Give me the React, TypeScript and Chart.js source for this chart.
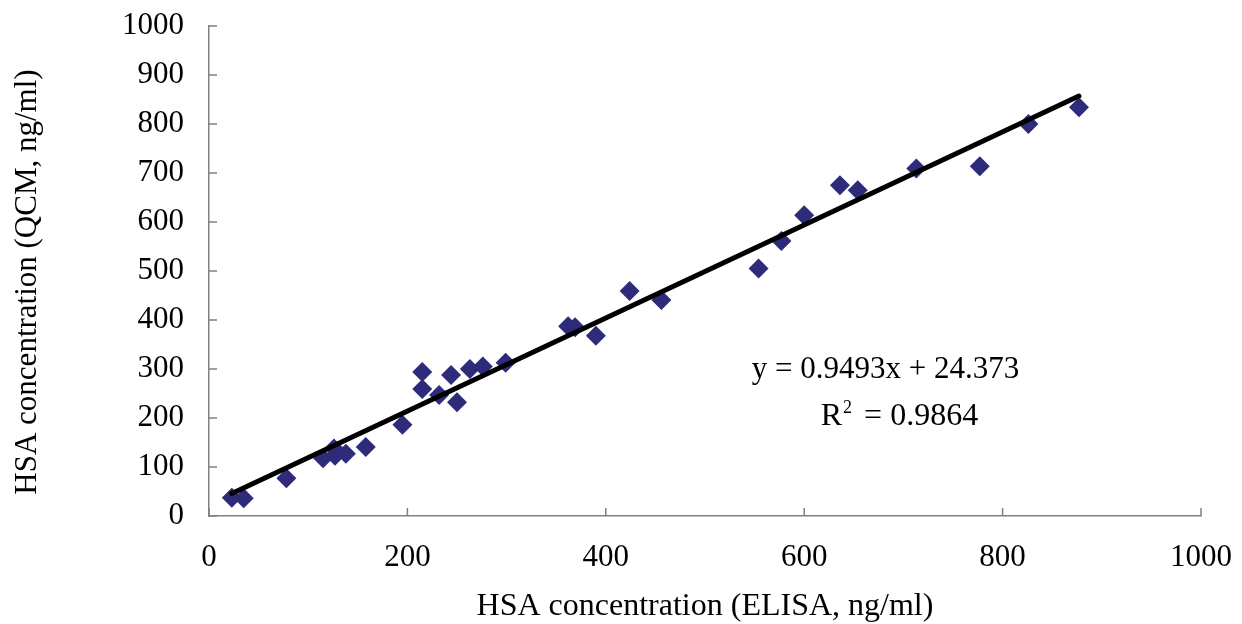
import { useEffect, useRef } from 'react';
import { Chart, registerables } from 'chart.js';

Chart.register(...registerables);

// HSA concentration measured by ELISA (x) and QCM (y), ng/ml
const ELISA = [23, 35, 78, 115, 126, 127, 138, 158, 195, 215, 215, 232, 244, 250, 263, 276, 299, 362, 369, 390, 424, 456, 554, 577, 600, 636, 654, 713, 777, 826, 877];
const QCM = [37, 36, 77, 118, 138, 123, 127, 141, 186, 294, 259, 247, 288, 232, 300, 305, 313, 387, 385, 368, 459, 441, 505, 561, 614, 675, 665, 709, 714, 800, 834];

// linear trendline end points
const TREND_X = [23, 877];
const TREND_Y = [46, 857];

const X_TICKS = [0, 200, 400, 600, 800, 1000];
const Y_TICKS = [0, 100, 200, 300, 400, 500, 600, 700, 800, 900, 1000];

const X_TITLE = 'HSA concentration (ELISA, ng/ml)';
const Y_TITLE = 'HSA concentration (QCM, ng/ml)';
const EQUATION = 'y = 0.9493x + 24.373';
const R2_VALUE = ' = 0.9864';
const EQ_POS = { x: 682, y: 282 };
const R2_POS = { x: 696, y: 186 };

const FONT = '"Liberation Serif", "Times New Roman", serif';
const AXIS_COLOR = '#808080';
const MARKER_COLOR = '#2e2b7a';

const inwardTicks = {
  id: 'inwardTicks',
  beforeDatasetsDraw(chart: Chart) {
    const { ctx } = chart;
    const x = chart.scales.x;
    const y = chart.scales.y;
    ctx.save();
    ctx.strokeStyle = AXIS_COLOR;
    ctx.lineWidth = 1.5;
    ctx.beginPath();
    X_TICKS.forEach((v) => {
      const px = x.getPixelForValue(v);
      ctx.moveTo(px, y.bottom);
      ctx.lineTo(px, y.bottom - 8);
    });
    Y_TICKS.forEach((v) => {
      const py = y.getPixelForValue(v);
      ctx.moveTo(x.left, py);
      ctx.lineTo(x.left + 8, py);
    });
    ctx.stroke();

    // y axis title, sits a little below the plot's middle like the original
    ctx.fillStyle = '#000';
    ctx.font = `31px ${FONT}`;
    ctx.textAlign = 'center';
    ctx.textBaseline = 'middle';
    ctx.translate(28, (y.top + y.bottom) / 2 + 11);
    ctx.rotate(-Math.PI / 2);
    ctx.fillText(Y_TITLE, 0, 0);
    ctx.restore();
  },
};

const equationLabel = {
  id: 'equationLabel',
  afterDatasetsDraw(chart: Chart) {
    const { ctx } = chart;
    const x = chart.scales.x;
    const y = chart.scales.y;
    ctx.save();
    ctx.fillStyle = '#000';
    ctx.textBaseline = 'alphabetic';
    ctx.font = `31px ${FONT}`;
    ctx.textAlign = 'center';
    ctx.fillText(EQUATION, x.getPixelForValue(EQ_POS.x), y.getPixelForValue(EQ_POS.y));

    // R² with a raised small 2
    ctx.textAlign = 'left';
    ctx.font = `32px ${FONT}`;
    const wR = ctx.measureText('R').width + 1;
    const wRest = ctx.measureText(R2_VALUE).width;
    ctx.font = `18px ${FONT}`;
    const w2 = ctx.measureText('2').width + 4;
    const total = wR + w2 + wRest;
    let cx = x.getPixelForValue(R2_POS.x) - total / 2;
    const by = y.getPixelForValue(R2_POS.y);
    ctx.font = `32px ${FONT}`;
    ctx.fillText('R', cx, by);
    cx += wR;
    ctx.font = `18px ${FONT}`;
    ctx.fillText('2', cx, by - 12);
    cx += w2;
    ctx.font = `32px ${FONT}`;
    ctx.fillText(R2_VALUE, cx, by);
    ctx.restore();
  },
};

export default function App(): React.JSX.Element {
  const canvasRef = useRef<HTMLCanvasElement>(null);
  const chartRef = useRef<Chart | null>(null);

  useEffect(() => {
    if (!canvasRef.current) return;

    if (chartRef.current) {
      chartRef.current.destroy();
    }

    chartRef.current = new Chart(canvasRef.current, {
      type: 'scatter',
      data: {
        datasets: [
          {
            type: 'line',
            data: TREND_X.map((v, i) => ({ x: v, y: TREND_Y[i] })),
            borderColor: '#000',
            borderWidth: 5,
            borderCapStyle: 'round',
            pointRadius: 0,
            fill: false,
            order: 0,
          },
          {
            data: ELISA.map((v, i) => ({ x: v, y: QCM[i] })),
            pointStyle: 'rectRot',
            pointRadius: 10,
            backgroundColor: MARKER_COLOR,
            borderColor: MARKER_COLOR,
            borderWidth: 0,
            order: 1,
          },
        ],
      },
      options: {
        animation: false,
        responsive: true,
        maintainAspectRatio: false,
        layout: { padding: { top: 26, right: 41, left: 0, bottom: 0 } },
        plugins: {
          legend: { display: false },
          tooltip: { enabled: false },
        },
        scales: {
          x: {
            type: 'linear',
            min: 0,
            max: 1000,
            afterFit: (scale) => {
              scale.height = 108;
            },
            grid: { display: false },
            border: { display: true, color: AXIS_COLOR, width: 1.5 },
            ticks: {
              stepSize: 200,
              color: '#000',
              padding: 10,
              font: { family: FONT, size: 31, lineHeight: 1.55 },
              maxRotation: 0,
              callback: (v) => String(v),
            },
            title: {
              display: true,
              text: X_TITLE,
              color: '#000',
              font: { family: FONT, size: 32, lineHeight: 1 },
              padding: { top: 0, bottom: 1 },
            },
          },
          y: {
            type: 'linear',
            min: 0,
            max: 1000,
            afterFit: (scale) => {
              scale.width = 209;
            },
            grid: { display: false },
            border: { display: true, color: AXIS_COLOR, width: 1.5 },
            ticks: {
              stepSize: 100,
              color: '#000',
              padding: 17,
              font: { family: FONT, size: 31, lineHeight: 0.5 },
              callback: (v) => String(v),
            },
            title: { display: false },
          },
        },
      },
      plugins: [inwardTicks, equationLabel],
    });

    return () => {
      chartRef.current?.destroy();
      chartRef.current = null;
    };
  }, []);

  return (
    <div style={{ position: 'absolute', left: 0, top: 0, width: 1242, height: 624, background: '#fff' }}>
      <canvas ref={canvasRef} />
    </div>
  );
}
